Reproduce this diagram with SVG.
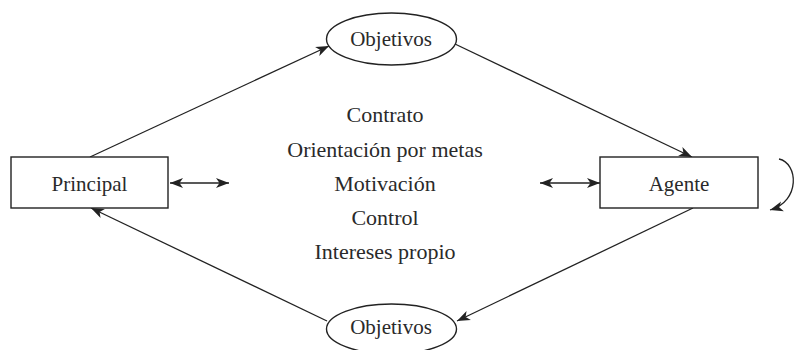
<svg xmlns="http://www.w3.org/2000/svg" width="796" height="350" viewBox="0 0 796 350">
<defs>
<style>
.box{fill:#fff;stroke:#222;stroke-width:1.4}
.lbl{font-family:"Liberation Serif","DejaVu Serif",serif;font-size:21px;fill:#2a2a2a;text-anchor:middle}
.mid{font-family:"Liberation Serif","DejaVu Serif",serif;font-size:22px;fill:#2a2a2a;text-anchor:middle}
.ln{fill:none;stroke:#222;stroke-width:1.3}
</style>
<marker id="ah" markerUnits="userSpaceOnUse" markerWidth="16" markerHeight="12" refX="13" refY="6" orient="auto-start-reverse">
<path d="M0,1 L13,6 L0,11 L3.5,6 z" fill="#222"/>
</marker>
</defs>
<rect width="796" height="350" fill="#fff"/>
<g id="connectors">
<line class="ln" x1="90" y1="157" x2="329" y2="46" marker-end="url(#ah)"/>
<line class="ln" x1="455" y1="44" x2="692" y2="157" marker-end="url(#ah)"/>
<line class="ln" x1="693" y1="208" x2="457" y2="321" marker-end="url(#ah)"/>
<line class="ln" x1="327" y1="321" x2="91" y2="208" marker-end="url(#ah)"/>
<line class="ln" x1="170" y1="183" x2="229" y2="183" marker-start="url(#ah)" marker-end="url(#ah)"/>
<line class="ln" x1="540" y1="183" x2="600" y2="183" marker-start="url(#ah)" marker-end="url(#ah)"/>
<path class="ln" d="M779,159 C798,163 801,201 770,210" marker-end="url(#ah)"/>
</g>
<g id="principal">
<rect class="box" x="11" y="157" width="157" height="51"/>
<text class="lbl" x="89.5" y="191">Principal</text>
</g>
<g id="agente">
<rect class="box" x="600" y="157" width="158" height="51"/>
<text class="lbl" x="679" y="191">Agente</text>
</g>
<g id="objetivos-top">
<ellipse class="box" cx="391.5" cy="39" rx="65" ry="26"/>
<text class="lbl" x="391" y="46">Objetivos</text>
</g>
<g id="objetivos-bottom">
<ellipse class="box" cx="391.5" cy="329" rx="65" ry="25"/>
<text class="lbl" x="391" y="334">Objetivos</text>
</g>
<g id="factores">
<text class="mid" x="385" y="122">Contrato</text>
<text class="mid" x="385" y="156.5">Orientación por metas</text>
<text class="mid" x="385" y="191">Motivación</text>
<text class="mid" x="385" y="225">Control</text>
<text class="mid" x="385" y="259">Intereses propio</text>
</g>
</svg>
